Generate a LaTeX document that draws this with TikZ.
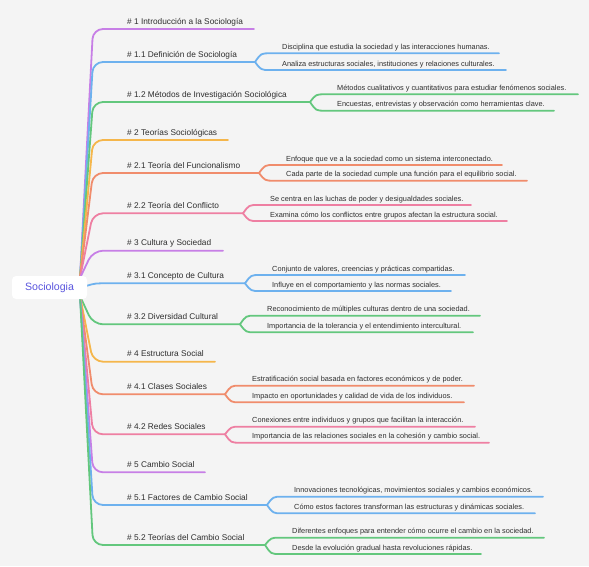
\documentclass[tikz,border=0pt]{standalone}
\usepackage{fontspec}
\setmainfont{Liberation Sans}
\definecolor{cPur}{HTML}{C77FE6}
\definecolor{cBlu}{HTML}{6DB1EE}
\definecolor{cGrn}{HTML}{63C77D}
\definecolor{cOra}{HTML}{F5B64B}
\definecolor{cSal}{HTML}{F08C6C}
\definecolor{cPnk}{HTML}{EE7FA2}
\definecolor{cTxt}{HTML}{2E2E2E}
\definecolor{cRoot}{HTML}{5A55DE}
\definecolor{cBg}{HTML}{F4F4F4}
\tikzset{
  lv/.style={anchor=base west, inner sep=0pt, font=\fontsize{8.3}{10}\selectfont, text=cTxt},
  lf/.style={anchor=base west, inner sep=0pt, font=\fontsize{7.35}{8.5}\selectfont, text=cTxt},
  br/.style={line width=1.8pt, line cap=round},
  rootbox/.style={fill=white, rounded corners=4pt, minimum width=75pt, minimum height=23pt, inner sep=0pt, font=\fontsize{10.6}{12}\selectfont, text=cRoot}
}
% #1 name #2 color #3 root coord #4 y #5 endx #6 text
\newcommand{\topic}[6]{%
  \node[lv] (#1) at (127,#4-5) {#6};
  \coordinate (#1e) at (#5,#4);
  \draw[br,#2,rounded corners=10pt] (#3) -- (93,#4) -- (#1e);
}
% #1 name #2 color #3 split x #4 y #5 child y #6 endx #7 text
\newcommand{\leafln}[7]{%
  \coordinate (#1a) at (#3,#4);
  \coordinate (#1b) at (#6,#5);
  \node[lf] (#1) at (#3+27,#5-4) {#7};
  \draw[br,#2] (#1a) .. controls (#3+6,#5) .. (#3+15,#5) -- (#1b);
}
\begin{document}
\begin{tikzpicture}[x=1pt,y=-1pt]
\fill[cBg] (0,0) rectangle (589,566);
\useasboundingbox (0,0) rectangle (589,566);
\coordinate (ru) at (80,278);
\coordinate (rl) at (80,296);
\coordinate (rm) at (86,286);

\topic{t1}{cPur}{ru}{29}{254}{\# 1 Introducción a la Sociología}
\topic{t11}{cBlu}{ru}{62}{255}{\# 1.1 Definición de Sociología}
\leafln{l111}{cBlu}{255}{62}{53.3}{499}{Disciplina que estudia la sociedad y las interacciones humanas.}
\leafln{l112}{cBlu}{255}{62}{70}{506}{Analiza estructuras sociales, instituciones y relaciones culturales.}
\topic{t12}{cGrn}{ru}{102}{310}{\# 1.2 Métodos de Investigación Sociológica}
\leafln{l121}{cGrn}{310}{102}{94.3}{578}{Métodos cualitativos y cuantitativos para estudiar fenómenos sociales.}
\leafln{l122}{cGrn}{310}{102}{110.7}{554}{Encuestas, entrevistas y observación como herramientas clave.}
\topic{t2}{cOra}{ru}{140}{228}{\# 2 Teorías Sociológicas}
\topic{t21}{cSal}{ru}{173}{259}{\# 2.1 Teoría del Funcionalismo}
\leafln{l211}{cSal}{259}{173}{165}{502}{Enfoque que ve a la sociedad como un sistema interconectado.}
\leafln{l212}{cSal}{259}{173}{180.7}{527}{Cada parte de la sociedad cumple una función para el equilibrio social.}
\topic{t22}{cPnk}{ru}{213.3}{243}{\# 2.2 Teoría del Conflicto}
\leafln{l221}{cPnk}{243}{213.3}{205}{471}{Se centra en las luchas de poder y desigualdades sociales.}
\leafln{l222}{cPnk}{243}{213.3}{221}{507}{Examina cómo los conflictos entre grupos afectan la estructura social.}
\topic{t3}{cPur}{ru}{250.7}{223}{\# 3 Cultura y Sociedad}
\node[lv] (t31) at (127,283.3-5) {\# 3.1 Concepto de Cultura};
\coordinate (t31e) at (245,283.3);
\draw[br,cBlu] (rm) .. controls (95,283.3) .. (108,283.3) -- (t31e);
\leafln{l311}{cBlu}{245}{283.3}{275}{465}{Conjunto de valores, creencias y prácticas compartidas.}
\leafln{l312}{cBlu}{245}{283.3}{291}{451}{Influye en el comportamiento y las normas sociales.}
\topic{t32}{cGrn}{rl}{324.3}{240}{\# 3.2 Diversidad Cultural}
\leafln{l321}{cGrn}{240}{324.3}{315.7}{480}{Reconocimiento de múltiples culturas dentro de una sociedad.}
\leafln{l322}{cGrn}{240}{324.3}{332.3}{473}{Importancia de la tolerancia y el entendimiento intercultural.}
\topic{t4}{cOra}{rl}{361.7}{215}{\# 4 Estructura Social}
\topic{t41}{cSal}{rl}{394.3}{225}{\# 4.1 Clases Sociales}
\leafln{l411}{cSal}{225}{394.3}{385.7}{474}{Estratificación social basada en factores económicos y de poder.}
\leafln{l412}{cSal}{225}{394.3}{402.3}{464}{Impacto en oportunidades y calidad de vida de los individuos.}
\topic{t42}{cPnk}{rl}{434.3}{225}{\# 4.2 Redes Sociales}
\leafln{l421}{cPnk}{225}{434.3}{426.7}{475}{Conexiones entre individuos y grupos que facilitan la interacción.}
\leafln{l422}{cPnk}{225}{434.3}{442.7}{489}{Importancia de las relaciones sociales en la cohesión y cambio social.}
\topic{t5}{cPur}{rl}{472.3}{205}{\# 5 Cambio Social}
\topic{t51}{cBlu}{rl}{505}{267}{\# 5.1 Factores de Cambio Social}
\leafln{l511}{cBlu}{267}{505}{496.7}{543}{Innovaciones tecnológicas, movimientos sociales y cambios económicos.}
\leafln{l512}{cBlu}{267}{505}{513.3}{535}{Cómo estos factores transforman las estructuras y dinámicas sociales.}
\topic{t52}{cGrn}{rl}{545}{265}{\# 5.2 Teorías del Cambio Social}
\leafln{l521}{cGrn}{265}{545}{537.7}{544}{Diferentes enfoques para entender cómo ocurre el cambio en la sociedad.}
\leafln{l522}{cGrn}{265}{545}{554}{481}{Desde la evolución gradual hasta revoluciones rápidas.}

\node[rootbox] (root) at (49.5,287.5) {Sociologia};
\end{tikzpicture}
\end{document}
